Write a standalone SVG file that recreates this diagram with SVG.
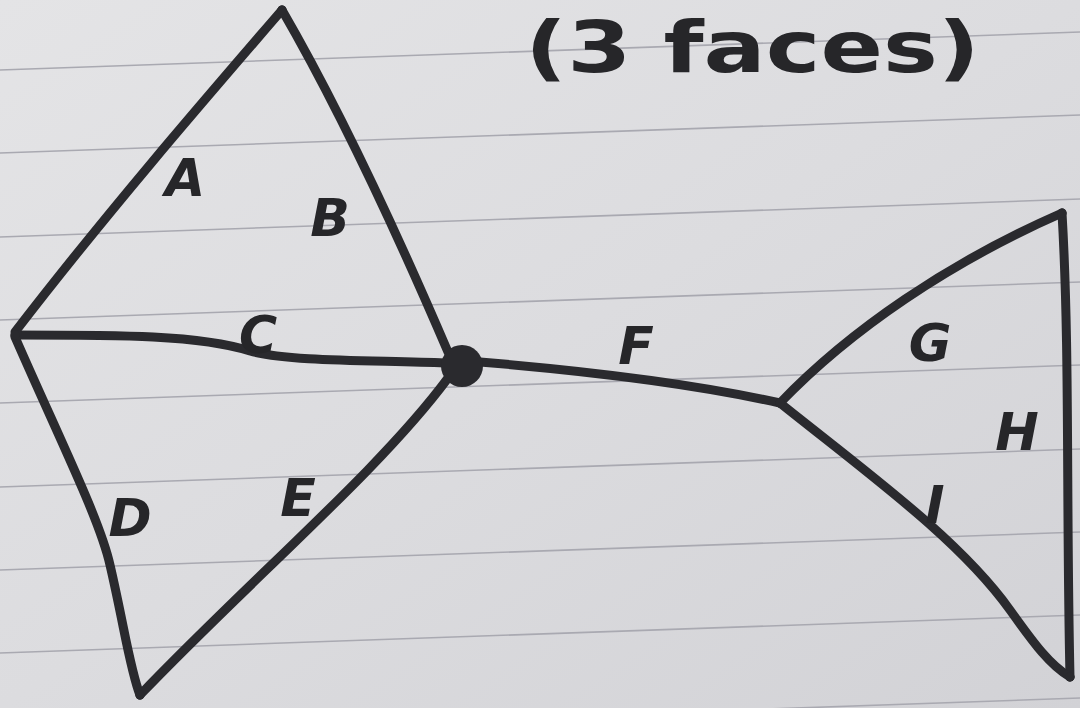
<svg xmlns="http://www.w3.org/2000/svg" width="1080" height="708" viewBox="0 0 1080 708">
  <defs>
    <linearGradient id="paper" x1="0" y1="0" x2="1" y2="1">
      <stop offset="0" stop-color="#e4e4e6"/>
      <stop offset="0.5" stop-color="#dcdcdf"/>
      <stop offset="1" stop-color="#d2d2d6"/>
    </linearGradient>
    <style>
      .rule { stroke: #a9a9b1; stroke-width: 1.6; fill: none; }
      .edge { stroke: #2a2a2e; stroke-width: 9; fill: none; stroke-linecap: round; stroke-linejoin: round; }
      .vtx { fill: #2a2a2e; }
      .lbl { font-family: "DejaVu Sans", "Liberation Sans", sans-serif; font-weight: bold; font-style: italic; font-size: 52px; fill: #262629; text-anchor: middle; dominant-baseline: central; }
      .title { font-family: "DejaVu Sans", "Liberation Sans", sans-serif; font-weight: bold; font-size: 72px; fill: #262629; }
    </style>
  </defs>

  <rect x="0" y="0" width="1080" height="708" fill="url(#paper)"/>

  <g id="rules">
    <line class="rule" x1="0" y1="70" x2="1080" y2="32"/>
    <line class="rule" x1="0" y1="153" x2="1080" y2="115"/>
    <line class="rule" x1="0" y1="237" x2="1080" y2="199"/>
    <line class="rule" x1="0" y1="320" x2="1080" y2="282"/>
    <line class="rule" x1="0" y1="403" x2="1080" y2="365"/>
    <line class="rule" x1="0" y1="487" x2="1080" y2="449"/>
    <line class="rule" x1="0" y1="570" x2="1080" y2="532"/>
    <line class="rule" x1="0" y1="653" x2="1080" y2="615"/>
    <line class="rule" x1="0" y1="736" x2="1080" y2="698"/>
  </g>

  <text class="title" x="525" y="72" textLength="455" lengthAdjust="spacingAndGlyphs">(3 faces)</text>

  <g id="connectors">
    <path id="edge-A" class="edge" d="M282,10 C200,105 105,215 15,332"/>
    <path id="edge-B" class="edge" d="M282,10 C340,110 400,240 448,352"/>
    <path id="edge-C" class="edge" d="M15,335 C120,335 200,335 250,351 C290,362 380,360 445,363"/>
    <path id="edge-D" class="edge" d="M15,337 C60,440 100,520 110,565 C124,625 130,670 140,695"/>
    <path id="edge-E" class="edge" d="M448,378 C380,470 250,580 140,695"/>
    <path id="edge-F" class="edge" d="M480,362 C600,372 700,385 780,403"/>
    <path id="edge-G" class="edge" d="M780,403 C850,330 950,262 1062,213"/>
    <path id="edge-H" class="edge" d="M1062,213 C1070,350 1066,500 1070,677"/>
    <path id="edge-I" class="edge" d="M780,403 C870,475 960,540 1010,610 C1035,645 1050,665 1070,677"/>
  </g>

  <g id="node-top"><circle class="vtx" cx="282" cy="10" r="4.5"/></g>
  <g id="node-left"><circle class="vtx" cx="15" cy="335" r="4.5"/></g>
  <g id="node-bottom-left"><circle class="vtx" cx="140" cy="695" r="4.5"/></g>
  <g id="node-center"><circle class="vtx" cx="462" cy="366" r="21"/></g>
  <g id="node-right-mid"><circle class="vtx" cx="780" cy="403" r="4.5"/></g>
  <g id="node-top-right"><circle class="vtx" cx="1062" cy="213" r="4.5"/></g>
  <g id="node-bottom-right"><circle class="vtx" cx="1070" cy="677" r="4.5"/></g>

  <g id="labels">
    <text class="lbl" x="185" y="178">A</text>
    <text class="lbl" x="330" y="218">B</text>
    <text class="lbl" x="258" y="335">C</text>
    <text class="lbl" x="130" y="518">D</text>
    <text class="lbl" x="298" y="498">E</text>
    <text class="lbl" x="636" y="346">F</text>
    <text class="lbl" x="930" y="343">G</text>
    <text class="lbl" x="1017" y="432">H</text>
    <text class="lbl" x="935" y="505">I</text>
  </g>
</svg>
